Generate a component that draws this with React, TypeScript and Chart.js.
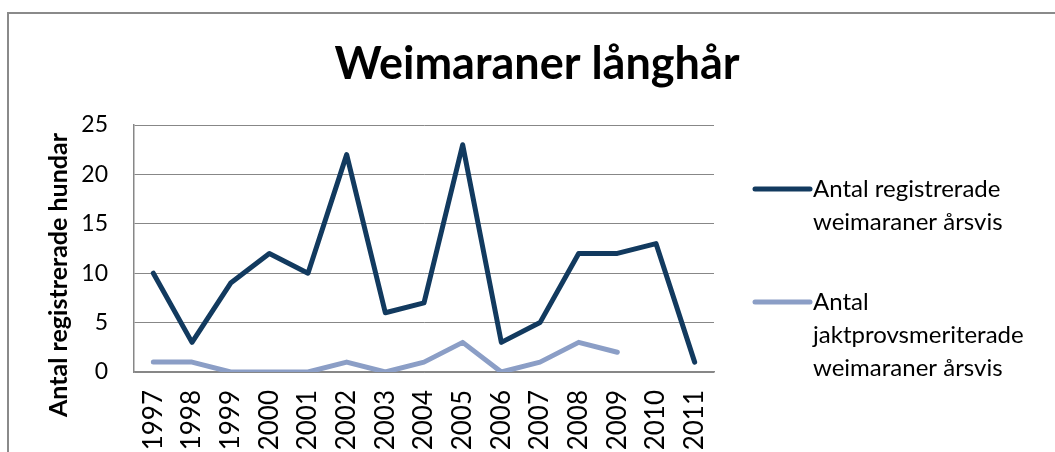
import React, { useEffect, useRef } from "react";
import { Chart, registerables } from "chart.js";

Chart.register(...registerables);

const TITLE = "Weimaraner långhår";
const Y_TITLE = "Antal registrerade hundar";
const YEARS = ["1997", "1998", "1999", "2000", "2001", "2002", "2003", "2004", "2005", "2006", "2007", "2008", "2009", "2010", "2011"];
const REGISTERED = [10, 3, 9, 12, 10, 22, 6, 7, 23, 3, 5, 12, 12, 13, 1];
const HUNT_MERITED = [1, 1, 0, 0, 0, 1, 0, 1, 3, 0, 1, 3, 2, null, null];
const SERIES_LABELS = [
  ["Antal registrerade", "weimaraner årsvis"],
  ["Antal", "jaktprovsmeriterade", "weimaraner årsvis"],
];
const COLORS = ["#123a5f", "#8b9ec6"];
const Y_MIN = 0;
const Y_MAX = 25;
const Y_STEP = 5;

const FONT = "Lato, 'Open Sans', sans-serif";
const GRID = "#878787";

const decor = {
  id: "decor",
  afterDraw(chart: any) {
    const ctx = chart.ctx as CanvasRenderingContext2D;
    ctx.save();
    // outer frame
    ctx.strokeStyle = "#8a8a8a";
    ctx.lineWidth = 2;
    ctx.beginPath();
    ctx.moveTo(8, 452);
    ctx.lineTo(8, 13);
    ctx.lineTo(1055, 13);
    ctx.stroke();

    // title
    ctx.fillStyle = "#000";
    ctx.font = `bold 45px ${FONT}`;
    ctx.textAlign = "center";
    ctx.textBaseline = "alphabetic";
    ctx.fillText(TITLE, 537, 79);

    // y axis title
    ctx.save();
    ctx.translate(59, 275);
    ctx.rotate(-Math.PI / 2);
    ctx.font = `bold 25px ${FONT}`;
    ctx.textAlign = "center";
    ctx.textBaseline = "middle";
    ctx.fillText(Y_TITLE, 0, 0);
    ctx.restore();

    // legend
    const starts = [189, 302];
    const lineH = 33;
    ctx.font = `24px ${FONT}`;
    ctx.textAlign = "left";
    ctx.textBaseline = "middle";
    SERIES_LABELS.forEach((lines, i) => {
      const y = starts[i];
      ctx.strokeStyle = COLORS[i];
      ctx.lineWidth = 5;
      ctx.lineCap = "round";
      ctx.beginPath();
      ctx.moveTo(755, y);
      ctx.lineTo(810, y);
      ctx.stroke();
      ctx.fillStyle = "#000";
      lines.forEach((t, k) => ctx.fillText(t, 813, y + k * lineH));
    });
    ctx.restore();
  },
};

export default function App() {
  const ref = useRef<HTMLCanvasElement>(null);
  useEffect(() => {
    const chart = new Chart(ref.current!, {
      type: "line",
      data: {
        labels: YEARS,
        datasets: [
          {
            label: SERIES_LABELS[0].join(" "),
            data: REGISTERED,
            borderColor: COLORS[0],
            backgroundColor: COLORS[0],
            borderWidth: 5,
            pointRadius: 0,
            borderCapStyle: "round",
            borderJoinStyle: "round",
            tension: 0,
            spanGaps: false,
          },
          {
            label: SERIES_LABELS[1].join(" "),
            data: HUNT_MERITED,
            borderColor: COLORS[1],
            backgroundColor: COLORS[1],
            borderWidth: 5,
            pointRadius: 0,
            borderCapStyle: "round",
            borderJoinStyle: "round",
            tension: 0,
            spanGaps: false,
          },
        ],
      },
      options: {
        animation: false,
        responsive: false,
        maintainAspectRatio: false,
        layout: { padding: { left: 0, top: 125, right: 341, bottom: 0 } },
        plugins: {
          legend: { display: false },
          title: { display: false },
          tooltip: { enabled: false },
        },
        scales: {
          x: {
            offset: true,
            grid: { display: false, drawTicks: false },
            border: { display: true, color: GRID, width: 1.5 },
            ticks: {
              color: "#000",
              font: { family: FONT, size: 26 },
              minRotation: 90,
              maxRotation: 90,
              padding: 18,
              autoSkip: false,
            },
            afterFit: (s: any) => {
              s.height = 80;
            },
          },
          y: {
            min: Y_MIN,
            max: Y_MAX,
            grid: { color: GRID, lineWidth: 1, drawTicks: false },
            border: { display: true, color: GRID, width: 1.5 },
            ticks: {
              stepSize: Y_STEP,
              color: "#000",
              font: { family: FONT, size: 23 },
              padding: 26,
            },
            afterFit: (s: any) => {
              s.width = 134;
            },
          },
        },
      },
      plugins: [decor],
    });
    return () => chart.destroy();
  }, []);
  return (
    <div style={{ position: "absolute", left: 0, top: 0, width: 1055, height: 452, background: "#fff" }}>
      <canvas ref={ref} width={1055} height={452} style={{ display: "block" }} />
    </div>
  );
}
